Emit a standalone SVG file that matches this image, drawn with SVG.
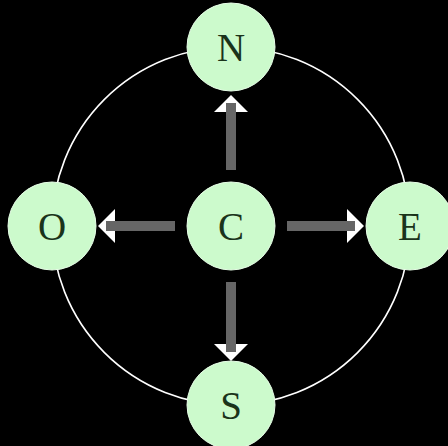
<svg xmlns="http://www.w3.org/2000/svg" width="448" height="446" viewBox="0 0 448 446">
<style>
.node{fill:#ccfacc;stroke:#e8ffe8;stroke-width:1}
.lbl{font-family:"Liberation Serif","DejaVu Serif",serif;font-size:39px;fill:#1a331a;text-anchor:middle}
.shaft{stroke:#666;stroke-width:10;fill:none}
.head{fill:#fff}
</style>
<rect width="448" height="446" fill="#000"/>
<circle cx="231" cy="226" r="179" fill="none" stroke="#fff" stroke-width="1.6"/>
<g id="connectors">
<polygon class="head" points="231,95 214,112 248,112"/>
<line class="shaft" x1="231" y1="170" x2="231" y2="103"/>
<polygon class="head" points="98,226 115,209 115,243"/>
<line class="shaft" x1="175" y1="226" x2="106" y2="226"/>
<polygon class="head" points="364,226 347,209 347,243"/>
<line class="shaft" x1="287" y1="226" x2="355" y2="226"/>
<polygon class="head" points="231,361 214,344 248,344"/>
<line class="shaft" x1="231" y1="282" x2="231" y2="352"/>
</g>
<g id="N"><circle class="node" cx="231" cy="47" r="44"/><text class="lbl" x="231" y="61">N</text></g>
<g id="O"><circle class="node" cx="52" cy="226" r="44"/><text class="lbl" x="52" y="240">O</text></g>
<g id="C"><circle class="node" cx="231" cy="226" r="44"/><text class="lbl" x="231" y="240">C</text></g>
<g id="E"><circle class="node" cx="410" cy="226" r="44"/><text class="lbl" x="410" y="240">E</text></g>
<g id="S"><circle class="node" cx="231" cy="405" r="44"/><text class="lbl" x="231" y="419">S</text></g>
</svg>
